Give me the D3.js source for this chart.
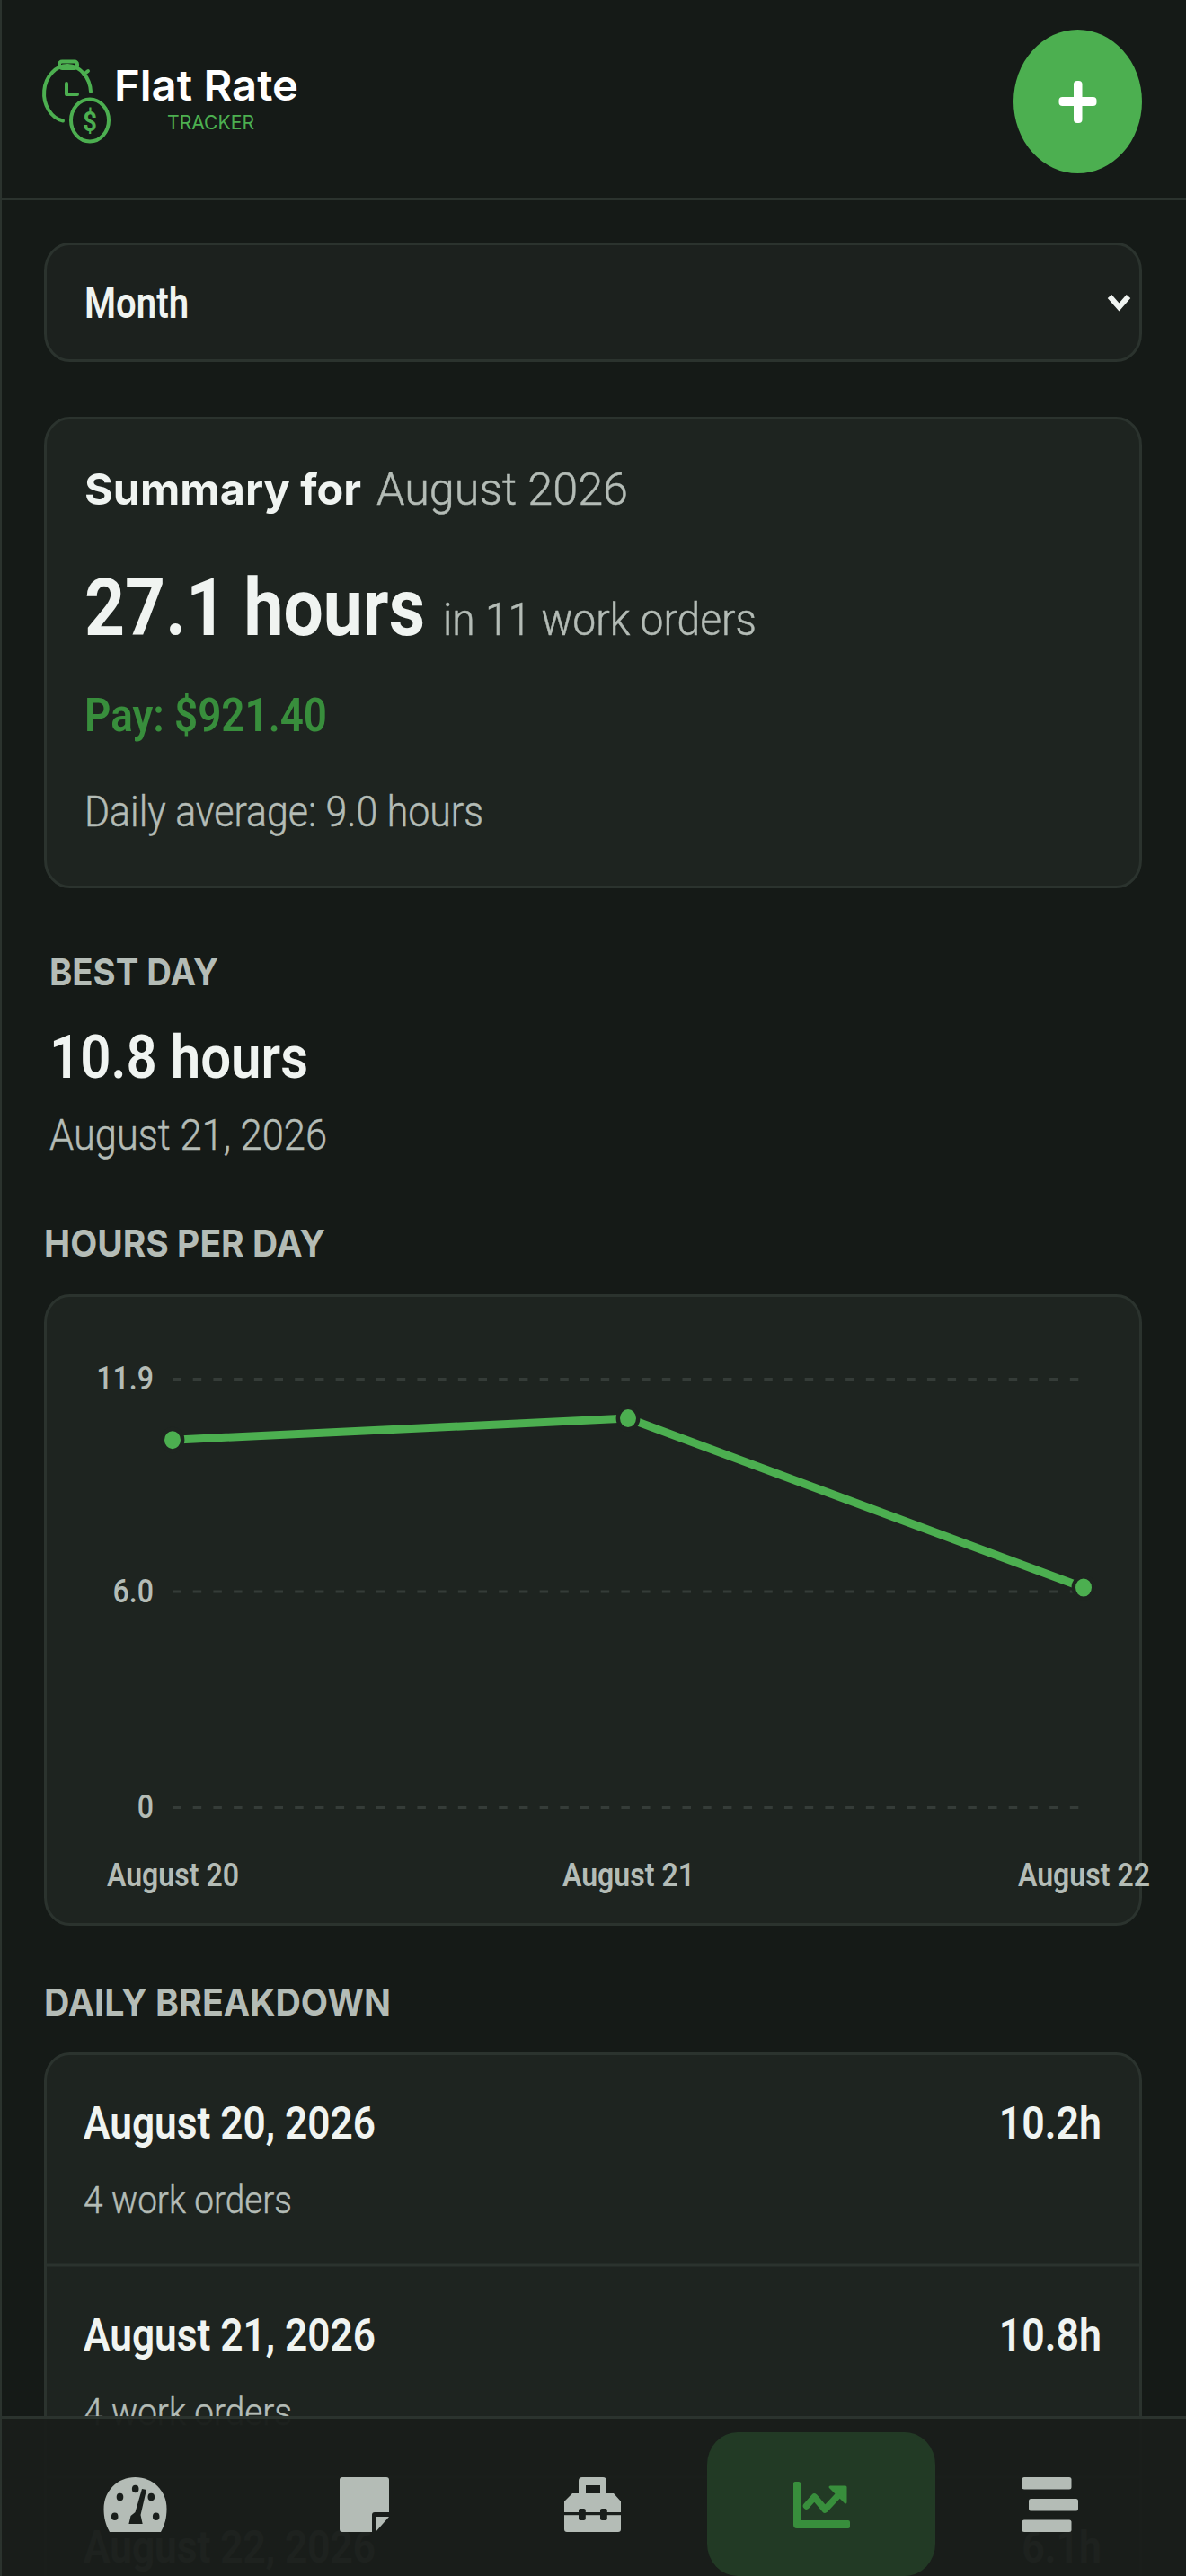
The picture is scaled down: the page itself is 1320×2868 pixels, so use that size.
<!DOCTYPE html>
<html><head><meta charset="utf-8">
<script src="https://cdn.jsdelivr.net/npm/d3@7/dist/d3.min.js"></script>
<style>html,body{margin:0;padding:0;background:#151a17;overflow:hidden}svg{display:block}</style>
</head><body><div id="app"></div>
<script>
const categories = ["August 20","August 21","August 22"];
const hoursPerDay = [10.2,10.8,6.1];
const yTickValues = [0,6.0,11.9];
const breakdownDates = ["August 20, 2026","August 21, 2026","August 22, 2026"];
const breakdownHours = ["10.2h","10.8h","6.1h"];
const breakdownOrders = ["4 work orders","4 work orders"];

const W=1320,H=2868,SX=0.894;
const GREEN="#4caf50",DKGREEN="#388e3c",PAGE="#151a17",CARD="#1e2420",SEL="#1c211e",BORDER="#2b332e",NAV="#191e1b",WHITE="#f0f4f1",SEC="#b4bcb6";
const ROB="Roboto, sans-serif",POP="Inter, sans-serif";
const svg=d3.select("#app").append("svg").attr("width",W).attr("height",H).attr("viewBox",`0 0 ${W} ${H}`);
svg.append("rect").attr("width",W).attr("height",H).attr("fill",PAGE);

function squeeze(sel,w){sel.each(function(){const L=w||this.getComputedTextLength()*SX;
  d3.select(this).attr("textLength",L).attr("lengthAdjust","spacingAndGlyphs");});return sel;}
function txt(p,s,x,y,size,weight,fill,font,w,anchor){
  const t=p.append("text").attr("x",x).attr("y",y).text(s).attr("font-size",size).attr("font-weight",weight)
    .attr("fill",fill).attr("font-family",font||ROB).attr("text-anchor",anchor||"start");
  if(weight===300) t.attr("stroke",fill).attr("stroke-width",.5);
  return squeeze(t,w);
}
function card(p,x,y,w,h,fill){return p.append("rect").attr("x",x+1.5).attr("y",y+1.5).attr("width",w-3).attr("height",h-3)
  .attr("rx",27).attr("ry",30).attr("fill",fill||CARD).attr("stroke",BORDER).attr("stroke-width",3);}

// header
svg.append("rect").attr("x",0).attr("y",220).attr("width",W).attr("height",3).attr("fill",BORDER);
const logo=svg.append("g").attr("fill","none").attr("stroke",GREEN).attr("stroke-width",4).attr("stroke-linecap","round").attr("stroke-linejoin","round");
logo.append("path").attr("d","M101 102 A26 31 0 1 0 70 134.5");
logo.append("rect").attr("x",66).attr("y",68.5).attr("width",20).attr("height",7.5).attr("rx",3);
logo.append("path").attr("d","M93 83 L98 79");
logo.append("path").attr("d","M74 93 V105 H86");
logo.append("ellipse").attr("cx",100).attr("cy",134).attr("rx",21).attr("ry",23.5);
txt(svg,"$",100,146,31,700,GREEN,ROB,null,"middle");
txt(svg,"Flat Rate",127,112,47,600,"#ffffff",POP,205);
txt(svg,"TRACKER",186,144,22,400,GREEN,POP,97);
svg.append("ellipse").attr("cx",1199.5).attr("cy",113).attr("rx",71.5).attr("ry",80).attr("fill",GREEN);
svg.append("rect").attr("x",1195).attr("y",90).attr("width",9.5).attr("height",47).attr("rx",4).attr("fill","#fff");
svg.append("rect").attr("x",1178.5).attr("y",108).attr("width",42).attr("height",10).attr("rx",4).attr("fill","#fff");

// select
card(svg,49,270,1222,133,SEL);
txt(svg,"Month",94,354,48,600,WHITE,ROB,116);
svg.append("path").attr("d","M1235 330 L1245.5 342 L1256 330").attr("fill","none").attr("stroke",WHITE).attr("stroke-width",6).attr("stroke-linejoin","miter");

// summary
card(svg,49,464,1222,525);
txt(svg,"Summary for",94,562,48,700,WHITE,POP,308);
txt(svg,"August 2026",419,562,50,300,SEC,ROB,280);
txt(svg,"27.1 hours",94,707,89,700,WHITE,ROB,379);
txt(svg,"in 11 work orders",493,707,50,300,SEC,ROB,349);
txt(svg,"Pay: $921.40",94,814,52,600,DKGREEN,ROB,270);
txt(svg,"Daily average: 9.0 hours",94,920,48,300,SEC,ROB,444);

// best day
txt(svg,"BEST DAY",55,1097,41,700,SEC,POP,188);
txt(svg,"10.8 hours",55,1200,66,600,WHITE,ROB,288);
txt(svg,"August 21, 2026",55,1280,48,300,SEC,ROB,309);

// chart
txt(svg,"HOURS PER DAY",49,1399,41,700,SEC,POP,313);
card(svg,49,1441,1222,703);
const x=d3.scalePoint().domain(categories).range([192,1206]);
const y=d3.scaleLinear().domain([0,11.9]).range([2012,1535]);
const yAxis=svg.append("g").attr("transform","translate(192,0)").style("font-size","36px").style("font-family",ROB).style("font-weight",500)
  .call(d3.axisLeft(y).tickValues(yTickValues).tickFormat(d=>d===0?"0":d.toFixed(1)).tickSize(-1012).tickPadding(21));
yAxis.select(".domain").remove();
yAxis.selectAll("line").attr("stroke","#353c38").attr("stroke-width",3).attr("stroke-dasharray","9.5 13.2");
yAxis.selectAll("text").attr("fill",SEC); squeeze(yAxis.selectAll("text"));
const xAxis=svg.append("g").attr("transform","translate(0,2012)").style("font-size","36px").style("font-family",ROB).style("font-weight",600)
  .call(d3.axisBottom(x).tickSize(0).tickPadding(62));
xAxis.select(".domain").remove();
xAxis.selectAll("text").attr("fill",SEC); squeeze(xAxis.selectAll("text"),147);
const pts=categories.map((c,i)=>({c,v:hoursPerDay[i]}));
svg.append("path").datum(pts).attr("fill","none").attr("stroke",GREEN).attr("stroke-width",9)
  .attr("d",d3.line().x(d=>x(d.c)).y(d=>y(d.v)));
svg.selectAll("ellipse.pt").data(pts).join("ellipse").attr("class","pt").attr("cx",d=>x(d.c)).attr("cy",d=>y(d.v))
  .attr("rx",11.2).attr("ry",12.2).attr("fill",GREEN).attr("stroke",CARD).attr("stroke-width",4.4);

// daily breakdown
txt(svg,"DAILY BREAKDOWN",49,2244,41,700,SEC,POP,386);
const listTop=2285,rowH=236;
svg.append("rect").attr("x",50.5).attr("y",listTop+1.5).attr("width",1219).attr("height",800).attr("rx",27).attr("ry",30).attr("fill",CARD).attr("stroke",BORDER).attr("stroke-width",3);
breakdownDates.forEach((d,i)=>{
  const base=2381+i*rowH;
  txt(svg,d,93,base,50,600,WHITE,ROB,325);
  txt(svg,breakdownHours[i],1226,base,50,600,WHITE,ROB,null,"end");
  if(breakdownOrders[i]) txt(svg,breakdownOrders[i],93,base+83,42,300,SEC,ROB,232);
  if(i<2) svg.append("rect").attr("x",51).attr("y",2520.5+i*rowH).attr("width",1218).attr("height",3).attr("fill",BORDER);
});

// bottom nav
svg.append("rect").attr("x",0).attr("y",2691).attr("width",W).attr("height",H-2691).attr("fill",NAV).attr("fill-opacity",.98);
svg.append("rect").attr("x",0).attr("y",2690).attr("width",W).attr("height",3).attr("fill",BORDER);
svg.append("rect").attr("x",787).attr("y",2708).attr("width",254).attr("height",160).attr("rx",34).attr("ry",36).attr("fill","#223a25");
// gauge
svg.append("path").attr("fill",SEC).attr("d","M122 2819 C117 2810 115.5 2802 115.5 2793 C115.5 2773 131 2758 150.5 2758 C170 2758 185.5 2773 185.5 2793 C185.5 2802 184 2810 179 2819 Z");
[[127.7,2801.7],[133.5,2780],[150.7,2771],[168.3,2780],[173.7,2801.7]].forEach(p=>svg.append("ellipse").attr("cx",p[0]).attr("cy",p[1]).attr("rx",3.8).attr("ry",4.3).attr("fill",NAV));
svg.append("path").attr("fill",NAV).attr("d","M158 2771 L163 2772 L156.5 2800 L158.7 2810 L143.4 2810 L145.5 2801 L150.5 2797 Z");
// note
svg.append("path").attr("fill",SEC).attr("d","M381 2758 H430 q3 0 3 3 V2797 H417 q-3 0 -3 3 V2819 H381 q-3 0 -3 -3 V2761 q0 -3 3 -3Z");
svg.append("path").attr("fill",SEC).attr("d","M418 2802 H433 L418 2819Z");
// briefcase
svg.append("path").attr("fill",SEC).attr("fill-rule","evenodd").attr("d","M648 2758 H671 q4 0 4 4 V2776 H683 L691 2785 V2816 q0 3 -3 3 H631 q-3 0 -3 -3 V2785 L637 2776 H644 V2762 q0 -4 4 -4Z M652 2767 V2776 H668 V2767Z");
svg.append("rect").attr("x",628).attr("y",2797).attr("width",63).attr("height",3.2).attr("fill",NAV);
[644,668].forEach(cx=>svg.append("rect").attr("x",cx).attr("y",2793).attr("width",7.8).attr("height",13).attr("rx",2).attr("fill",NAV));
// chart icon
svg.append("path").attr("fill",DKGREEN).attr("d","M885 2763 h4 q2 0 2 2 V2806 H944 q2 0 2 2 v5 q0 2 -2 2 H887 q-4 0 -4 -4 V2765 q0 -2 2 -2Z");
svg.append("path").attr("fill","none").attr("stroke",DKGREEN).attr("stroke-width",7.5).attr("stroke-linecap","round").attr("stroke-linejoin","round").attr("d","M897.5 2790 L906.4 2780 L918.2 2794 L935 2776");
svg.append("path").attr("fill",DKGREEN).attr("stroke",DKGREEN).attr("stroke-width",3).attr("stroke-linejoin","round").attr("d","M924 2769 L941 2769 L941 2786Z");
// hamburger
[[1137.5,2758],[1145,2782],[1137.5,2805.5]].forEach(p=>svg.append("rect").attr("x",p[0]).attr("y",p[1]).attr("width",55).attr("height",13.5).attr("rx",2.5).attr("fill",SEC));
// left edge
svg.append("rect").attr("x",0).attr("y",0).attr("width",2).attr("height",H).attr("fill",BORDER);
</script></body></html>
